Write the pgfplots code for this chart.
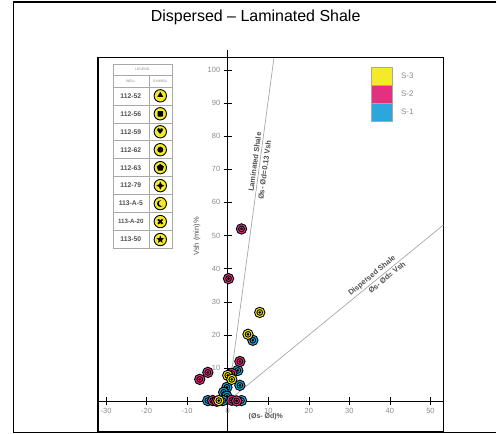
\documentclass[border=0pt]{standalone}
\usepackage{fontspec}
\setmainfont{Liberation Sans}
\newfontfamily\dejavu{DejaVu Sans}
\usepackage{pgfplots}
\pgfplotsset{compat=1.18}
\usetikzlibrary{shapes.geometric}
\definecolor{syellow}{HTML}{F4EA2B}
\definecolor{spink}{HTML}{E4307E}
\definecolor{sblue}{HTML}{2DA6DE}
\definecolor{tgray}{HTML}{8A8A8A}
\definecolor{lgray}{HTML}{A8A8A8}
\definecolor{dgray}{HTML}{505050}
\pgfdeclareplotmark{well}{%
  \pgfpathcircle{\pgfpointorigin}{\pgfplotmarksize}%
  \pgfusepathqfillstroke
  \pgfpathcircle{\pgfpointorigin}{0.55\pgfplotmarksize}%
  \pgfusepathqstroke
  \pgfscope
  \pgfsetfillcolor{black}%
  \pgfpathcircle{\pgfpointorigin}{0.3\pgfplotmarksize}%
  \pgfusepathqfill
  \endpgfscope
}
\tikzset{wname/.style={font=\bfseries\fontsize{6.8}{7}\selectfont, text=dgray},
  ycirc/.style={fill=syellow, line width=0.9pt},
  tline/.style={lgray, line width=0.5pt}}
\begin{document}
\begin{tikzpicture}
\begin{axis}[
  scale only axis, width=346pt, height=381.8pt,
  xmin=-32, xmax=53.2, ymin=-9.04, ymax=106,
  axis lines=middle,
  axis line style={-, line width=1.1pt, black},
  xtick={-30,-20,...,50}, ytick={10,20,...,100},
  hide obscured x ticks=false, hide obscured y ticks=false,
  tick align=center, major tick length=8pt,
  tick style={black, line width=0.6pt},
  /pgf/number format/assume math mode=true,
  ticklabel style={font=\fontsize{7.5}{8}\selectfont, text=tgray},
  clip=false,
]
\draw[line width=1.1pt] (axis cs:-32,-9.04) rectangle (axis cs:53.2,103.6);
\addplot[lgray, line width=0.7pt] coordinates {(0,0) (11.4,103.6)};
\addplot[lgray, line width=0.7pt] coordinates {(0,0) (53.2,53.2)};
% S-1 blue
\addplot[only marks, mark=well, mark size=5.2pt, mark options={fill=sblue, draw=black, line width=0.9pt}] coordinates {
(6.2,18.4) (2.5,9.3) (3.0,4.8) (-0.2,4.2) (-1.0,2.7) (-0.2,1.5) (-4.9,0.2) (-1.2,0.2) (3.4,0.2)};
% S-2 pink
\addplot[only marks, mark=well, mark size=5.2pt, mark options={fill=spink, draw=black, line width=0.9pt}] coordinates {
(3.4,52) (0.2,37) (3.0,12) (1.0,8.4) (-4.9,8.7) (-6.9,6.6) (-3.7,0.2) (-2.7,0.0) (1.0,0.3) (2.2,0.1)};
% S-3 yellow
\addplot[only marks, mark=well, mark size=5.2pt, mark options={fill=syellow, draw=black, line width=0.9pt}] coordinates {
(7.9,26.8) (5.0,20.2) (0,7.8) (1.0,6.6) (-2.2,0.2)};
\node[rotate=82.3, anchor=south, font=\bfseries\fontsize{7.5}{8}\selectfont, text=dgray, inner sep=2pt] at (axis cs:7.9,72) {Laminated Shale};
\node[rotate=82.3, anchor=north, font=\bfseries\fontsize{7.5}{8}\selectfont, text=dgray, inner sep=2pt] at (axis cs:7.9,70) {Øs- Ød=0.13 Vsh};
\node[rotate=39.3, anchor=south, font=\bfseries\fontsize{7.5}{8}\selectfont, text=dgray, inner sep=2pt] at (axis cs:36.5,36.5) {Dispersed Shale};
\node[rotate=39.3, anchor=north, font=\bfseries\fontsize{7.5}{8}\selectfont, text=dgray, inner sep=2pt] at (axis cs:38.5,38.5) {Øs- Ød= Vsh};
\node[font=\bfseries\fontsize{7}{8}\selectfont, text=dgray] at (axis cs:9.4,-4.6) {(Øs- Ød)\%};
\node[rotate=90, font=\fontsize{7.5}{8}\selectfont, text=dgray] at (axis cs:-7.6,49.7) {Vsh (min)\%};
% pixel-based frame for decorations: (px,py) from the top-left corner
\begin{scope}[shift={(axis cs:-56.158,121.084)}, x={(axis direction cs:0.246305,0)}, y={(axis direction cs:0,-0.301205)}]
\path (0,0) rectangle (497,434);
\draw[line width=1.3pt] (497,2) -- (13.5,2) -- (13.5,433) -- (497,433);
\node[font=\fontsize{16}{18}\selectfont] at (256,17) {Dispersed – Laminated Shale};
% S legend
\draw[lgray, fill=syellow] (372,67) rectangle (393,85);
\draw[lgray, fill=spink] (372,85) rectangle (393,103);
\draw[lgray, fill=sblue] (372,103) rectangle (393,121);
\node[anchor=west, font=\fontsize{8}{9}\selectfont, text=tgray] at (398,76) {S-3};
\node[anchor=west, font=\fontsize{8}{9}\selectfont, text=tgray] at (398,94) {S-2};
\node[anchor=west, font=\fontsize{8}{9}\selectfont, text=tgray] at (398,112) {S-1};
% well legend table
\draw[tline] (113,64) rectangle (172,249);
\draw[tline] (113,75) -- (172,75);
\draw[tline] (113,87) -- (172,87);
\draw[tline] (113,105) -- (172,105);
\draw[tline] (113,123) -- (172,123);
\draw[tline] (113,141) -- (172,141);
\draw[tline] (113,159) -- (172,159);
\draw[tline] (113,177) -- (172,177);
\draw[tline] (113,195) -- (172,195);
\draw[tline] (113,213) -- (172,213);
\draw[tline] (113,231) -- (172,231);
\draw[tline] (149,75) -- (149,249);
\node[font=\fontsize{3.5}{4}\selectfont, text=tgray] at (142.5,69.5) {LEGEND};
\node[font=\fontsize{3.5}{4}\selectfont, text=tgray] at (131,81) {WELL};
\node[font=\fontsize{3.5}{4}\selectfont, text=tgray] at (160.5,81) {SYMBOL};
\node[wname] at (131,96) {112-52};
\node[wname] at (131,114) {112-56};
\node[wname] at (131,132) {112-59};
\node[wname] at (131,150) {112-62};
\node[wname] at (131,168) {112-63};
\node[wname] at (131,186) {112-79};
\node[wname] at (131,204) {113-A-5};
\node[wname, font=\bfseries\fontsize{6.2}{7}\selectfont] at (131,222) {113-A-20};
\node[wname] at (131,240) {113-50};
\draw[ycirc] (160.5,96) circle (6.2pt);
\draw[ycirc] (160.5,114) circle (6.2pt);
\draw[ycirc] (160.5,132) circle (6.2pt);
\draw[ycirc] (160.5,150) circle (6.2pt);
\draw[ycirc] (160.5,168) circle (6.2pt);
\draw[ycirc] (160.5,186) circle (6.2pt);
\draw[ycirc] (160.5,204) circle (6.2pt);
\draw[ycirc] (160.5,222) circle (6.2pt);
\draw[ycirc] (160.5,240) circle (6.2pt);
\node[regular polygon, regular polygon sides=3, fill=black, inner sep=0pt, minimum size=7pt] at (160.5,95.4) {};
\node[rectangle, fill=black, inner sep=0pt, minimum size=5.5pt, rounded corners=0.6pt] at (160.5,114) {};
\node[font=\dejavu\fontsize{8}{8}\selectfont, inner sep=0pt] at (160.5,132) {♥};
\fill (160.5,150) circle (3pt);
\node[regular polygon, regular polygon sides=5, fill=black, inner sep=0pt, minimum size=7.5pt] at (160.5,168) {};
\node[star, star points=4, star point ratio=2.2, fill=black, inner sep=0pt, minimum size=8pt] at (160.5,186) {};
\fill (160.5,204) circle (3.3pt);
\fill[syellow] (161.9,203.6) circle (2.8pt);
\draw[line width=1.8pt] (158.3,219.8) -- (162.7,224.2) (158.3,224.2) -- (162.7,219.8);
\node[star, star points=5, star point ratio=2.3, fill=black, inner sep=0pt, minimum size=8pt] at (160.5,240) {};
\end{scope}
\end{axis}
\end{tikzpicture}
\end{document}
